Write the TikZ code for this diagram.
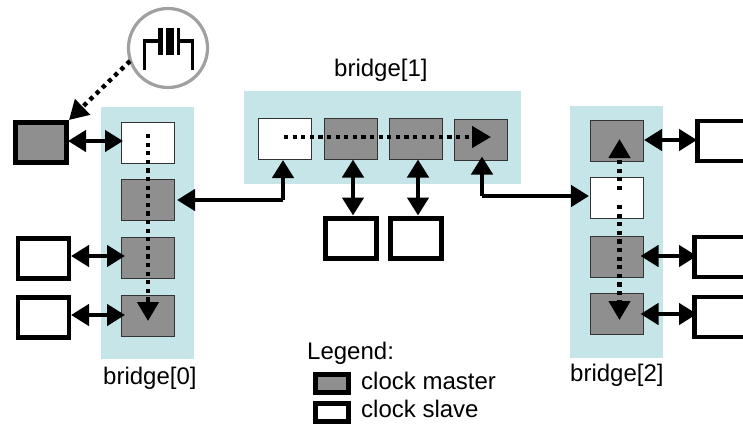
\documentclass[tikz,border=0pt]{standalone}
\usepackage{fontspec}
\setmainfont{Liberation Sans}
\usetikzlibrary{arrows.meta}
\definecolor{bridgebg}{HTML}{C5E5E9}
\definecolor{cellgray}{HTML}{8F8F8F}
\definecolor{ringgray}{HTML}{A0A0A0}
\tikzset{
  x=1pt,y=-1pt,
  bg/.style={fill=bridgebg,draw=none,inner sep=0pt},
  cellbox/.style={draw=black!80,line width=0.9pt,inner sep=0pt,outer sep=0pt,minimum width=53pt,minimum height=41pt},
  master/.style={cellbox,fill=cellgray},
  slave/.style={cellbox,fill=white},
  devbox/.style={draw=black,line width=4.6pt,fill=white,inner sep=0pt,outer sep=0pt,minimum width=51pt,minimum height=40pt},
  devmaster/.style={devbox,fill=cellgray},
  link/.style={line width=4.4pt,-{Triangle[length=18pt,width=21pt]}},
  dlink/.style={line width=4.4pt,{Triangle[length=18pt,width=21pt]}-{Triangle[length=18pt,width=21pt]}},
  dots/.style={line width=4.4pt,dash pattern=on 4.2pt off 4.4pt,-{Triangle[length=19pt,width=21pt]}},
  label/.style={anchor=base west,inner sep=0pt,font=\fontsize{24}{26}\selectfont},
  symb/.style={line width=3.2pt,line cap=butt,line join=miter},
  legendbox/.style={draw=black,line width=5pt,inner sep=0pt,outer sep=0pt,minimum width=33pt,minimum height=18pt},
}
\begin{document}
\begin{tikzpicture}
\useasboundingbox (0,0) rectangle (743,423);
\clip (0,0) rectangle (743,423);
% bridge backgrounds
\node[bg,minimum width=93pt,minimum height=252pt] (bg0) at (147.5,233) {};
\node[bg,minimum width=277pt,minimum height=93pt] (bg1) at (382.5,137.5) {};
\node[bg,minimum width=93pt,minimum height=252pt] (bg2) at (616.5,232) {};
% bridge[0] cells
\node[slave]  (a0) at (147.5,142.5) {};
\node[master] (a1) at (147.5,199.5) {};
\node[master] (a2) at (147.5,258) {};
\node[master] (a3) at (147.5,315.5) {};
% bridge[1] cells
\node[slave]  (b0) at (284.5,138.5) {};
\node[master] (b1) at (351,138.5) {};
\node[master] (b2) at (416,138.5) {};
\node[master] (b3) at (481,139.5) {};
% bridge[2] cells
\node[master] (c0) at (617,141) {};
\node[slave]  (c1) at (617,198) {};
\node[master] (c2) at (617,256.5) {};
\node[master] (c3) at (617,313.5) {};
% devices
\node[devmaster] (d0) at (41,142.5) {};
\node[devbox] (d1) at (43.5,258.5) {};
\node[devbox] (d2) at (43.5,317.5) {};
\node[devbox] (e1) at (351,238.5) {};
\node[devbox] (e2) at (416,238.5) {};
\node[devbox] (f0) at (723,141) {};
\node[devbox] (f1) at (720,257) {};
\node[devbox] (f2) at (720,317) {};
% crystal
\node[circle,draw=ringgray,line width=3.2pt,fill=white,inner sep=0pt,outer sep=0pt,minimum size=79pt] (xtal) at (168,48) {};
\draw[symb] (144.5,70) |- (158,41);
\draw[symb] (192.5,70) |- (177,41);
\fill (158,27.5) rectangle (162.5,55);
\fill (165.5,27.5) rectangle (173.5,55);
\fill (176.5,27.5) rectangle (180,55);
% dotted clock paths
\coordinate (xs) at (130,61);
\coordinate (xe) at (69,120);
\draw[dots] (xs) -- (xe);
\coordinate (a0s) at (148,134);
\coordinate (a3e) at (148,321);
\draw[dots] (a0s) -- (a3e);
\coordinate (b0s) at (284,137);
\coordinate (b3e) at (491,137);
\draw[dots] (b0s) -- (b3e);
\coordinate (c1u) at (619.5,190);
\coordinate (c0e) at (619.5,139);
\coordinate (c1d) at (619.5,205);
\coordinate (c3e) at (619.5,320);
\draw[dots] (c1u) -- (c0e);
\draw[dots] (c1d) -- (c3e);
% links
\draw[dlink] (68,141) -- (123,141);
\draw[dlink] (71,256) -- (125,256);
\draw[dlink] (71,315) -- (125,315);
\coordinate (l0) at (283,200);
\draw[link] (l0) -- (283,160);
\draw[link] (l0) -- (177,200);
\draw[dlink] (353,159.5) -- (353,215.5);
\draw[dlink] (418,159.5) -- (418,215.5);
\coordinate (r0) at (482,196);
\draw[link] (r0) -- (589,196);
\draw[link] (r0) -- (482,156.5);
\draw[dlink] (644,140) -- (697,140);
\draw[dlink] (640.5,256) -- (697,256);
\draw[dlink] (640.5,314) -- (697,314);
% labels
\node[label] (t1) at (334,76) {bridge[1]};
\node[label] (t0) at (103,384) {bridge[0]};
\node[label] (t2) at (570,381) {bridge[2]};
\node[label] (tl) at (307,359) {Legend:};
\node[legendbox,fill=cellgray] (lm) at (332,383.5) {};
\node[legendbox,fill=white] (ls) at (332,412) {};
\node[label] (tm) at (361,389) {clock master};
\node[label] (ts) at (361,417) {clock slave};
\end{tikzpicture}
\end{document}
